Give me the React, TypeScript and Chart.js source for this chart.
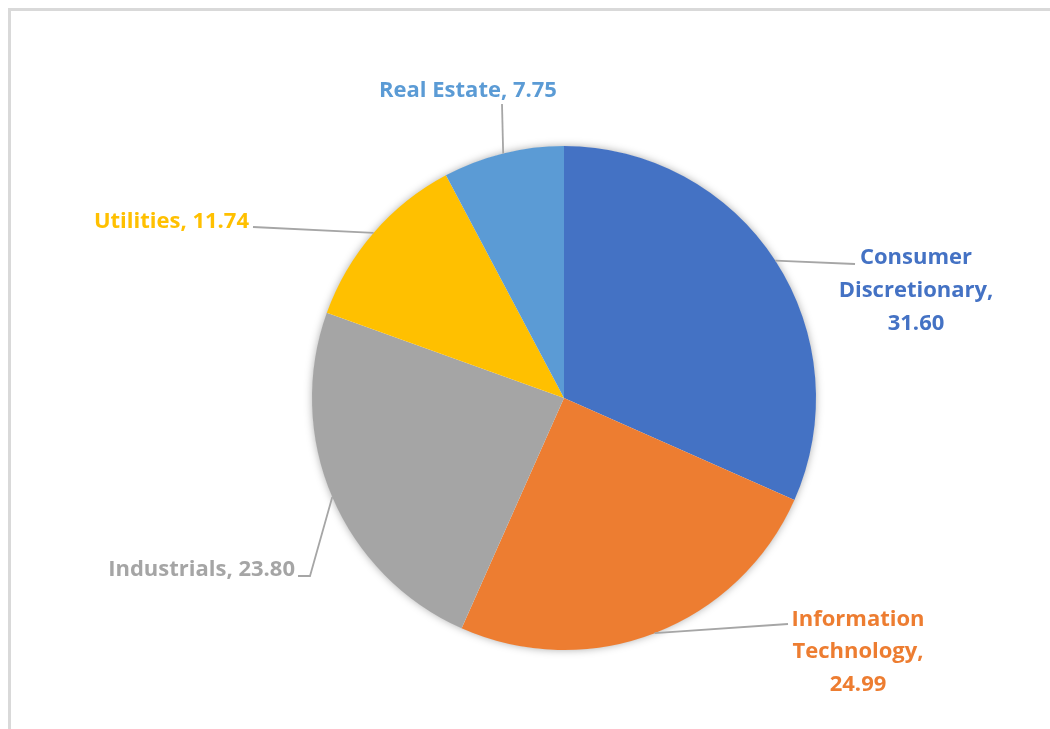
import React, { useEffect, useRef } from "react";
import { Chart, registerables } from "chart.js";

Chart.register(...registerables);

const categories = ["Consumer Discretionary", "Information Technology", "Industrials", "Utilities", "Real Estate"];
const values = [31.6, 24.99, 23.8, 11.74, 7.75];
const valueLabels = ["31.60", "24.99", "23.80", "11.74", "7.75"];
const colors = ["#4472C4", "#ED7D31", "#A5A5A5", "#FFC000", "#5B9BD5"];

// Label layout (positions only): leader-line path after the slice edge point, text anchor, alignment
const labelLayout = [
  { path: [[855, 264]], x: 916, baselines: [264, 297, 330], align: "center", wrap: true, widths: [114, 156, 68] },
  { path: [[788, 624]], x: 858, baselines: [626, 658, 691], align: "center", wrap: true, widths: [136, 136, 65] },
  { path: [[310, 576], [298, 576]], x: 295, baselines: [576], align: "right", wrap: false, widths: [196] },
  { path: [[253, 227]], x: 249, baselines: [228], align: "right", wrap: false, widths: [166] },
  { path: [[502, 104]], x: 468, baselines: [97], align: "center", wrap: false, widths: [190] },
];

const FONT = "700 22px 'Open Sans'";

const decorPlugin = {
  id: "decor",
  beforeDraw(chart: any) {
    const ctx = chart.ctx;
    ctx.save();
    ctx.fillStyle = "#ffffff";
    ctx.fillRect(0, 0, chart.width, chart.height);
    ctx.fillStyle = "#d9d9d9";
    ctx.fillRect(8, 8, chart.width - 8, 3);
    ctx.fillRect(8, 8, 3, chart.height - 8);
    ctx.restore();
  },
  beforeDatasetsDraw(chart: any) {
    const meta = chart.getDatasetMeta(0);
    const a = meta.data[0];
    if (!a) return;
    const ctx = chart.ctx;
    ctx.save();
    ctx.shadowColor = "rgba(0,0,0,0.35)";
    ctx.shadowBlur = 9;
    ctx.shadowOffsetX = 0;
    ctx.shadowOffsetY = 0;
    ctx.fillStyle = "#ffffff";
    ctx.beginPath();
    ctx.arc(a.x, a.y, a.outerRadius - 0.5, 0, Math.PI * 2);
    ctx.fill();
    ctx.restore();
  },
  afterDatasetsDraw(chart: any) {
    const meta = chart.getDatasetMeta(0);
    const ctx = chart.ctx;
    ctx.save();
    meta.data.forEach((arc: any, i: number) => {
      const lay = labelLayout[i];
      const mid = (arc.startAngle + arc.endAngle) / 2;
      const ex = arc.x + Math.cos(mid) * arc.outerRadius;
      const ey = arc.y + Math.sin(mid) * arc.outerRadius;
      ctx.strokeStyle = "#a6a6a6";
      ctx.lineWidth = 1.8;
      ctx.beginPath();
      ctx.moveTo(ex, ey);
      lay.path.forEach((p: number[]) => ctx.lineTo(p[0], p[1]));
      ctx.stroke();

      let lines: string[];
      if (lay.wrap) {
        const words = categories[i].split(" ");
        lines = [...words.slice(0, -1), words[words.length - 1] + ",", valueLabels[i]];
      } else {
        lines = [categories[i] + ", " + valueLabels[i]];
      }
      ctx.font = FONT;
      ctx.fillStyle = colors[i];
      ctx.textAlign = lay.align;
      ctx.textBaseline = "alphabetic";
      lines.forEach((t, j) => {
        ctx.fillText(t, lay.x, lay.baselines[j], lay.widths[j]);
      });
    });
    ctx.restore();
  },
};

export default function App() {
  const ref = useRef<HTMLCanvasElement | null>(null);
  useEffect(() => {
    if (!ref.current) return;
    const chart = new Chart(ref.current, {
      type: "pie",
      data: {
        labels: categories,
        datasets: [
          {
            data: values,
            backgroundColor: colors,
            borderWidth: 0,
            hoverOffset: 0,
            offset: 0,
          },
        ],
      },
      options: {
        responsive: false,
        animation: false,
        devicePixelRatio: 1,
        layout: { padding: { left: 312, right: 234, top: 146, bottom: 79 } },
        plugins: {
          legend: { display: false },
          tooltip: { enabled: false },
        },
        events: [],
      },
      plugins: [decorPlugin],
    } as any);
    return () => chart.destroy();
  }, []);
  return (
    <div style={{ position: "fixed", left: 0, top: 0, width: 1050, height: 729 }}>
      <canvas ref={ref} width={1050} height={729} style={{ display: "block" }} />
    </div>
  );
}
